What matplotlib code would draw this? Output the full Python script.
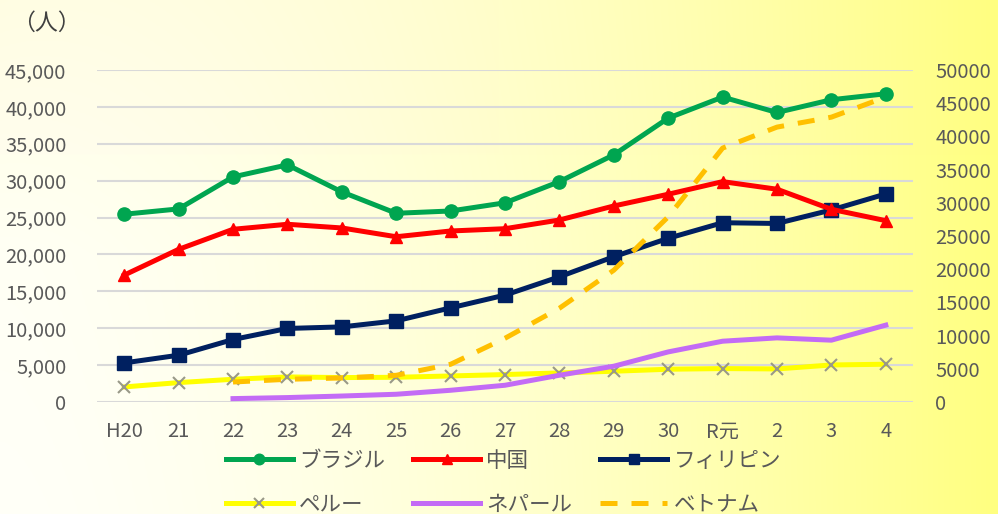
import numpy as np
import matplotlib
matplotlib.use("Agg")
import matplotlib.pyplot as plt
from matplotlib.ticker import FuncFormatter, MultipleLocator

plt.rcParams['font.family'] = ['Noto Sans CJK JP', 'DejaVu Sans']

years = ["H20", "21", "22", "23", "24", "25", "26", "27", "28", "29", "30", "R元", "2", "3", "4"]
brazil = [25450, 26170, 30510, 32140, 28480, 25580, 25890, 27000, 29870, 33500, 38480, 41330, 39240, 40970, 41780]
china = [17200, 20690, 23410, 24090, 23590, 22400, 23180, 23490, 24670, 26570, 28160, 29870, 28840, 26120, 24580]
philippines = [5300, 6340, 8470, 9970, 10180, 11000, 12760, 14490, 16970, 19690, 22190, 24300, 24200, 26030, 28200]
peru = [2040, 2630, 3080, 3400, 3310, 3350, 3530, 3720, 3940, 4170, 4440, 4530, 4480, 5020, 5120]
nepal = [None, None, 460, 600, 810, 1050, 1590, 2270, 3630, 4850, 6790, 8240, 8690, 8380, 10420]
vietnam = [None, None, 3010, 3420, 3620, 4020, 5680, 9600, 14120, 19850, 27890, 38240, 41400, 42900, 45930]

W, H = 998, 514
fig = plt.figure(figsize=(W / 100, H / 100), dpi=100)

# background gradient
bg = fig.add_axes([0, 0, 1, 1], zorder=-10)
xs = np.linspace(0, 1, 400)
ys = np.linspace(0, 1, 200)
X, Y = np.meshgrid(xs, ys)
t = np.clip(X ** 1.6 + 0.06 * (1 - Y) * (1 - X), 0, 1)
b = 248 - (248 - 128) * t
b = np.where(Y < 0.5, b - 14 * (0.5 - Y) * (1 - X) * 2 * (1 - X), b)
img = np.dstack([np.full_like(b, 255), np.full_like(b, 255) - 2 * (1 - X) * (Y < 0.3), b]) / 255.0
bg.imshow(np.clip(img, 0, 1), aspect='auto', extent=[0, 1, 0, 1], origin='upper')
bg.axis('off')

ax = fig.add_axes([97 / W, (H - 402) / H, 816 / W, 332 / H])
ax.patch.set_alpha(0)
ax2 = ax.twinx()
ax2.patch.set_alpha(0)

x = np.arange(len(years))

def arr(v):
    return np.array([np.nan if a is None else a for a in v], dtype=float)

LW = 3.6
ax.plot(x, arr(peru), color='#FFFF00', lw=LW, marker='x', ms=9, mec='#999988', mew=1.5, label='ペルー', zorder=3)
ax.plot(x, arr(nepal), color='#C36BF5', lw=LW, label='ネパール', zorder=3)
ax.plot(x, arr(philippines), color='#002060', lw=LW, marker='s', ms=9.5, label='フィリピン', zorder=4)
ax.plot(x, arr(china), color='#FF0000', lw=LW, marker='^', ms=8.5, label='中国', zorder=4)
ax.plot(x, arr(brazil), color='#00A550', lw=LW, marker='o', ms=9.5, label='ブラジル', zorder=5)
ax2.plot(x, arr(vietnam), color='#FFC000', lw=LW, ls=(0, (3.4, 2.8)), label='ベトナム', zorder=3)

ax.set_xlim(-0.5, len(years) - 0.5)
ax.set_ylim(0, 45000)
ax2.set_ylim(0, 50000)
ax.yaxis.set_major_locator(MultipleLocator(5000))
ax2.yaxis.set_major_locator(MultipleLocator(5000))
ax.yaxis.set_major_formatter(FuncFormatter(lambda v, p: f"{int(v):,}"))
ax2.yaxis.set_major_formatter(FuncFormatter(lambda v, p: f"{int(v)}"))
ax.grid(axis='y', color='#D9D9D9', lw=1.5, zorder=0)
ax.set_axisbelow(True)
ax.set_xticks(x)
ax.set_xticklabels(years)

for a in (ax, ax2):
    for s in a.spines.values():
        s.set_visible(False)
    a.tick_params(length=0, colors='#595959', labelsize=14.5)
ax.tick_params(axis='y', pad=22)
ax2.tick_params(axis='y', pad=16)
ax.tick_params(axis='x', pad=14)

fig.text(12 / W, 1 - 23 / H, '（人）', fontsize=16.5, color='#404040', va='center', ha='left')

h1, l1 = ax.get_legend_handles_labels()
h2, l2 = ax2.get_legend_handles_labels()
hd = dict(zip(l1 + l2, h1 + h2))
# column-major fill for ncol=3 gives rows: ブラジル 中国 フィリピン / ペルー ネパール ベトナム
order = ['ブラジル', 'ペルー', '中国', 'ネパール', 'フィリピン', 'ベトナム']
leg = fig.legend([hd[k] for k in order], order, ncol=3, loc='upper left',
                 bbox_to_anchor=(226 / W, 1 - 450 / H), frameon=False,
                 fontsize=15.5, handlelength=3.1, handletextpad=0.3,
                 columnspacing=1.3, labelspacing=1.0, borderpad=0, borderaxespad=0,
                 markerscale=0.8)
for txt in leg.get_texts():
    txt.set_color('#595959')

fig.savefig('out.png', dpi=100)
